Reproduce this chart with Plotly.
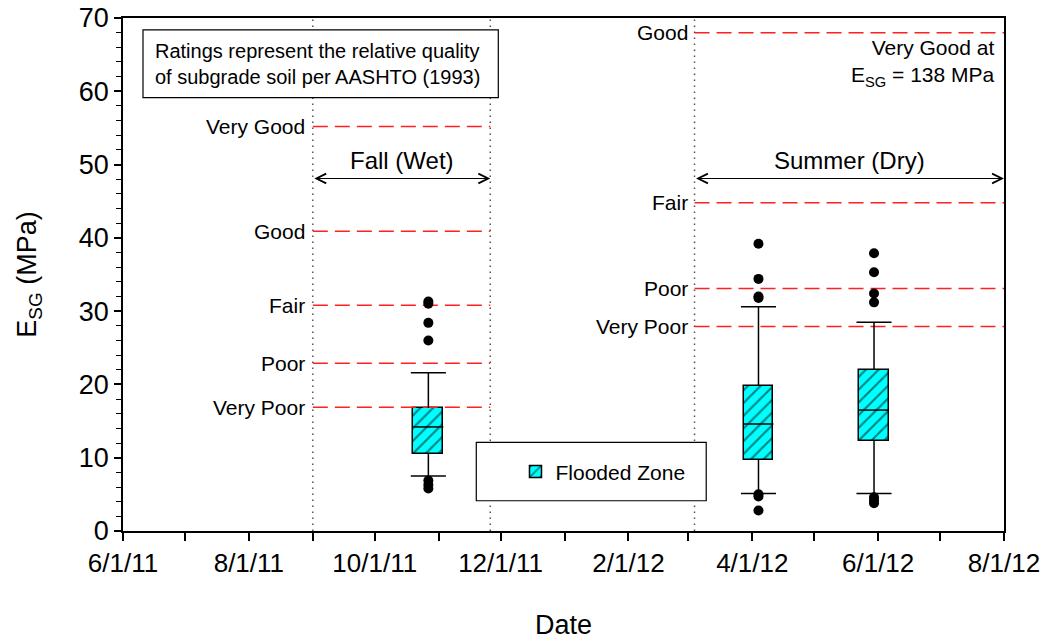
import plotly.graph_objects as go
import pandas as pd

# ---------------- data ----------------
# Box statistics of E_SG (MPa) for the flooded zone
box_dates = ["2011-10-27", "2012-04-04", "2012-05-30"]
box_q1 = [10.5, 9.7, 12.3]
box_median = [14.2, 14.6, 16.5]
box_q3 = [16.8, 19.8, 22.0]
box_lower = [7.5, 5.1, 5.1]
box_upper = [21.6, 30.6, 28.5]

# Outliers
out1_values = [31.3, 31.0, 28.4, 26.0, 6.9, 6.3, 5.8]
out2_values = [39.2, 34.4, 32.0, 31.8, 5.0, 4.7, 2.8]
out3_values = [37.9, 35.3, 32.4, 31.2, 4.6, 4.2, 3.8]

# Seasons
fall_start, fall_end = "2011-09-01", "2011-11-26"
summer_start, summer_end = "2012-03-04", "2012-08-01"
season_names = ["Fall (Wet)", "Summer (Dry)"]
arrow_level = 48.1

# AASHTO (1993) rating thresholds
fall_ratings = ["Very Good", "Good", "Fair", "Poor", "Very Poor"]
fall_values = [55.2, 40.9, 30.8, 22.9, 16.9]
summer_ratings = ["Good", "Fair", "Poor", "Very Poor"]
summer_values = [68.0, 44.8, 33.1, 27.9]

x_range = ["2011-06-01", "2012-08-01"]
y_range = [0, 70]

# ---------------- figure ----------------
FONT = "Liberation Sans, Arial, sans-serif"
CYAN = "#00FFFF"
box_width_days = 14.5
cap_width_days = 17.0

fig = go.Figure()

# rating lines
def rating_trace(start, end, values):
    xs, ys = [], []
    for v in values:
        xs += [start, end, None]
        ys += [v, v, None]
    return go.Scatter(x=xs, y=ys, mode="lines", showlegend=False, hoverinfo="skip",
                      line=dict(color="#FF2020", width=1.5, dash="15px,7px"))

fig.add_trace(rating_trace(fall_start, fall_end, fall_values))
fig.add_trace(rating_trace(summer_start, summer_end, summer_values))

# whiskers + caps
centers = pd.to_datetime(box_dates)
half_box = pd.Timedelta(days=box_width_days / 2)
half_cap = pd.Timedelta(days=cap_width_days / 2)
wx, wy = [], []
for c, q1, q3, lo, hi in zip(centers, box_q1, box_q3, box_lower, box_upper):
    wx += [c, c, None, c, c, None]
    wy += [q3, hi, None, q1, lo, None]
    wx += [c - half_cap, c + half_cap, None, c - half_cap, c + half_cap, None]
    wy += [hi, hi, None, lo, lo, None]
fig.add_trace(go.Scatter(x=wx, y=wy, mode="lines", showlegend=False, hoverinfo="skip",
                         line=dict(color="black", width=1.5)))

# box bodies (hatched)
fig.add_trace(go.Bar(
    x=box_dates, base=box_q1, y=[b - a for a, b in zip(box_q1, box_q3)],
    width=[box_width_days * 86400000] * len(box_dates),
    name="Flooded Zone",
    marker=dict(color=CYAN, line=dict(color="black", width=1.5),
                pattern=dict(shape="/", fgcolor="black", bgcolor=CYAN, size=9, solidity=0.22)),
    hoverinfo="skip",
))

# medians
mx, my = [], []
for c, m in zip(centers, box_median):
    mx += [c - half_box, c + half_box, None]
    my += [m, m, None]
fig.add_trace(go.Scatter(x=mx, y=my, mode="lines", showlegend=False, hoverinfo="skip",
                         line=dict(color="black", width=1.5)))

# outliers
ox, oy = [], []
for d, vals in zip(box_dates, [out1_values, out2_values, out3_values]):
    ox += [d] * len(vals)
    oy += vals
fig.add_trace(go.Scatter(x=ox, y=oy, mode="markers", showlegend=False, hoverinfo="skip",
                         marker=dict(color="black", size=10)))

shapes = []
# dotted season boundaries
for d in [fall_start, fall_end, summer_start]:
    shapes.append(dict(type="line", xref="x", yref="y", x0=d, x1=d, y0=y_range[0], y1=y_range[1],
                       line=dict(color="#555555", width=1.5, dash="1.5px,4.5px"), layer="above"))
# note box and legend box
shapes.append(dict(type="rect", xref="paper", yref="paper", x0=0.0227, x1=0.426, y0=0.8446, y1=0.977,
                   line=dict(color="black", width=1.2), fillcolor="white", layer="above"))
shapes.append(dict(type="rect", xref="paper", yref="paper", x0=0.401, x1=0.662, y0=0.059, y1=0.1727,
                   line=dict(color="black", width=1.2), fillcolor="white", layer="above"))

annotations = []
for name, v in zip(fall_ratings, fall_values):
    annotations.append(dict(x=fall_start, y=v, text=name, showarrow=False, xanchor="right",
                            yanchor="middle", xshift=-6, font=dict(size=21, color="black", family=FONT)))
for name, v in zip(summer_ratings, summer_values):
    annotations.append(dict(x=summer_start, y=v, text=name, showarrow=False, xanchor="right",
                            yanchor="middle", xshift=-5, font=dict(size=21, color="black", family=FONT)))

# double-headed arrows
for s, e in [(fall_start, fall_end), (summer_start, summer_end)]:
    annotations.append(dict(x=e, y=arrow_level, ax=s, ay=arrow_level, xref="x", yref="y",
                            axref="x", ayref="y", text="", showarrow=True,
                            arrowhead=5, startarrowhead=5, arrowside="end+start",
                            arrowsize=1.6, startarrowsize=1.6, arrowwidth=1.2, arrowcolor="black"))
for (s, e), name in zip([(fall_start, fall_end), (summer_start, summer_end)], season_names):
    mid = pd.to_datetime(s) + (pd.to_datetime(e) - pd.to_datetime(s)) / 2
    annotations.append(dict(x=mid, y=arrow_level, text=name, showarrow=False, yanchor="bottom",
                            yshift=3, font=dict(size=24, color="black", family=FONT)))

annotations.append(dict(xref="paper", yref="paper", x=0.034, y=0.911, xanchor="left", yanchor="middle",
                        align="left", showarrow=False,
                        text="Ratings represent the relative quality<br>of subgrade soil per AASHTO (1993)",
                        font=dict(size=20, color="black", family=FONT)))
annotations.append(dict(xref="paper", yref="paper", x=0.9915, y=0.913, xanchor="right", yanchor="middle",
                        align="right", showarrow=False,
                        text="Very Good at<br>E<sub>SG</sub> = 138 MPa",
                        font=dict(size=21, color="black", family=FONT)))

fig.update_layout(
    width=1040, height=640,
    margin=dict(l=123, r=36, t=18, b=109, autoexpand=False),
    paper_bgcolor="white", plot_bgcolor="white",
    font=dict(family=FONT, color="black"),
    shapes=shapes, annotations=annotations,
    showlegend=True,
    legend=dict(x=0.4455, y=0.1155, xanchor="left", yanchor="middle", bgcolor="rgba(0,0,0,0)",
                borderwidth=0, font=dict(size=21, family=FONT, color="black")),
    bargap=0,
)
fig.update_xaxes(
    type="date", range=x_range, tick0="2011-06-01", dtick="M2", tickformat="%-m/%-d/%y",
    ticks="outside", ticklen=8, tickwidth=1.5, tickcolor="black", ticklabeloverflow="allow",
    minor=dict(dtick="M1", ticks="outside", ticklen=8, tickwidth=1.5, tickcolor="black", showgrid=False),
    showline=True, linecolor="black", linewidth=1.5, mirror=True, showgrid=False, zeroline=False,
    automargin=False,
    tickfont=dict(size=26, family=FONT), title=dict(text="Date", font=dict(size=27, family=FONT), standoff=38),
)
fig.update_yaxes(
    range=y_range, dtick=10, ticks="outside", ticklen=7, tickwidth=1.5, tickcolor="black",
    minor=dict(dtick=2, ticks="outside", ticklen=5, tickwidth=1.2, tickcolor="black", showgrid=False),
    showline=True, linecolor="black", linewidth=1.5, mirror=True, showgrid=False, zeroline=False,
    automargin=False,
    tickfont=dict(size=27, family=FONT),
    title=dict(text="E<sub>SG</sub> (MPa)", font=dict(size=27, family=FONT), standoff=34),
)

fig.write_html("out.html", post_script="document.body.style.margin='0px';",
               config={"displayModeBar": False})
